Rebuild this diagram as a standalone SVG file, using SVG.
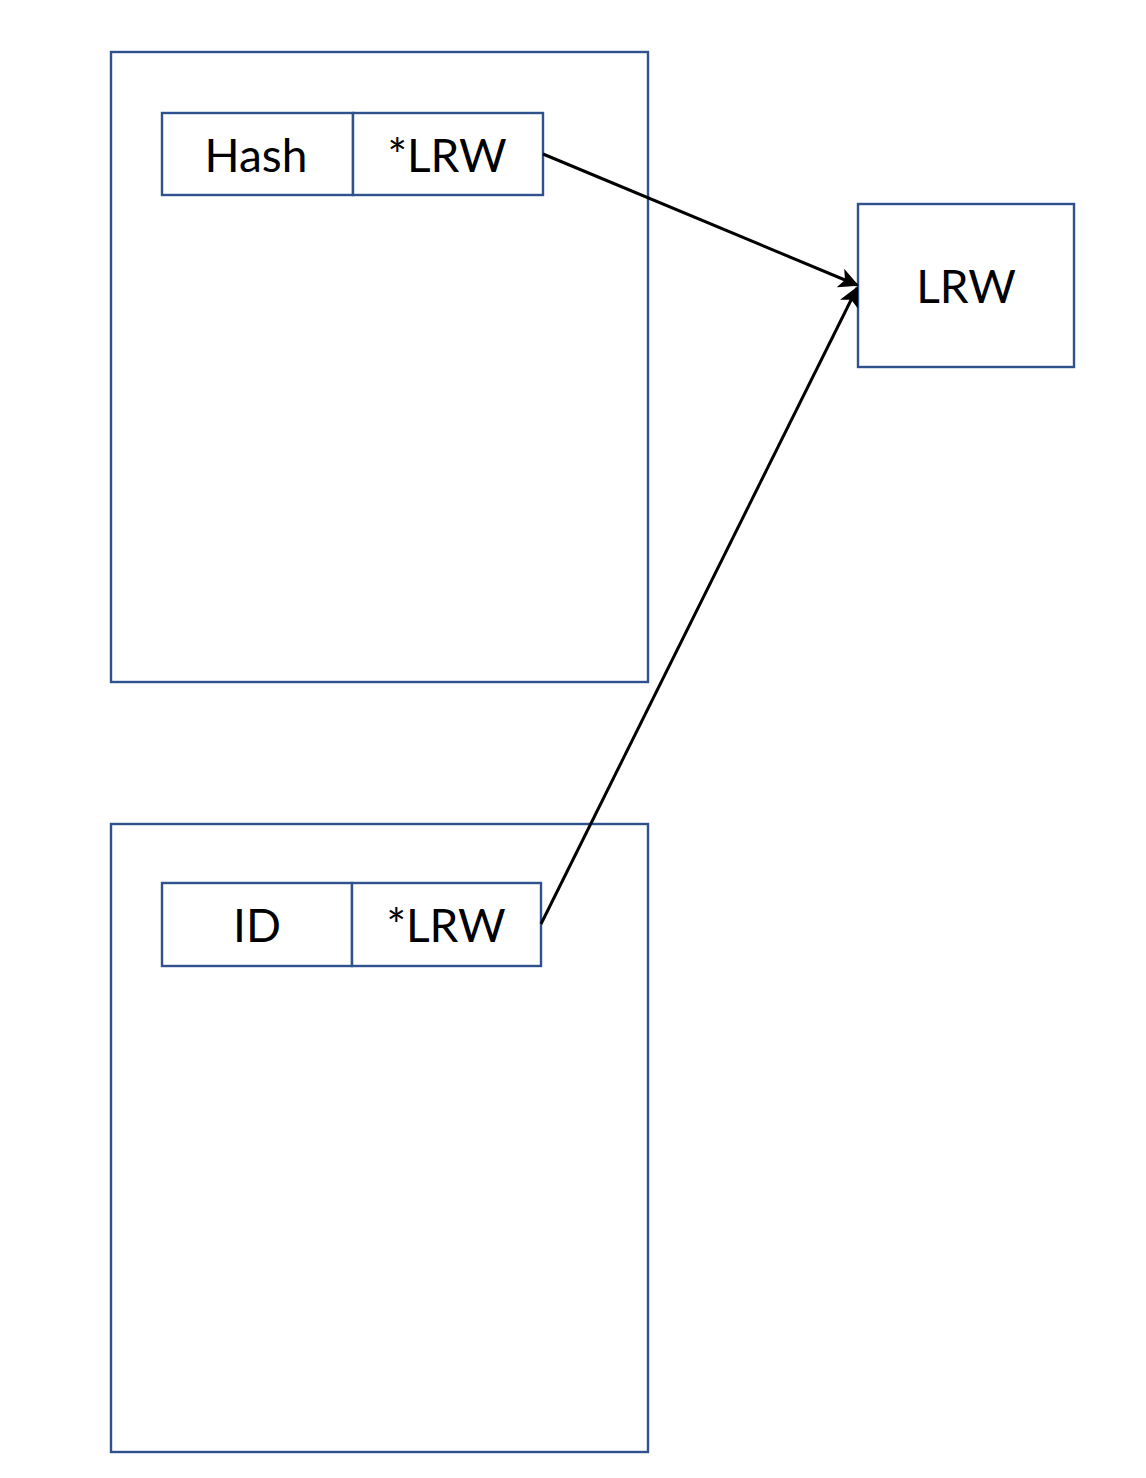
<svg xmlns="http://www.w3.org/2000/svg" width="1146" height="1478" viewBox="0 0 1146 1478">
<defs>
<style>
.box{fill:#fff;stroke:#2F528F;stroke-width:2.4}
.t{font-family:Lato,"Liberation Sans",sans-serif;font-size:46px;fill:#000;text-anchor:middle}
.c{stroke:#000;stroke-width:3;fill:none}
</style>
<marker id="ah" viewBox="0 0 10 10" refX="9" refY="5" markerWidth="20" markerHeight="20" markerUnits="userSpaceOnUse" orient="auto">
<path d="M0,0 L10,5 L0,10 L2.5,5 z" fill="#000"/>
</marker>
</defs>
<rect width="1146" height="1478" fill="#fff"/>
<g id="table1">
<rect class="box" x="111" y="52" width="537" height="630"/>
</g>
<g id="table2">
<rect class="box" x="111" y="824" width="537" height="628"/>
</g>
<g id="row1">
<rect class="box" x="162" y="113" width="191" height="82"/>
<rect class="box" x="353" y="113" width="190" height="82"/>
<text class="t" x="256" y="172">Hash</text>
<text class="t" x="447" y="172">*LRW</text>
</g>
<g id="row2">
<rect class="box" x="162" y="883" width="190" height="83"/>
<rect class="box" x="352" y="883" width="189" height="83"/>
<text class="t" x="257" y="942">ID</text>
<text class="t" x="446" y="942">*LRW</text>
</g>
<g id="lrw">
<rect class="box" x="858" y="204" width="216" height="163"/>
<text class="t" x="966" y="303">LRW</text>
</g>
<g id="connectors">
<line class="c" x1="543" y1="154" x2="857" y2="285" marker-end="url(#ah)"/>
<line class="c" x1="541" y1="924" x2="857" y2="288" marker-end="url(#ah)"/>
</g>
</svg>
